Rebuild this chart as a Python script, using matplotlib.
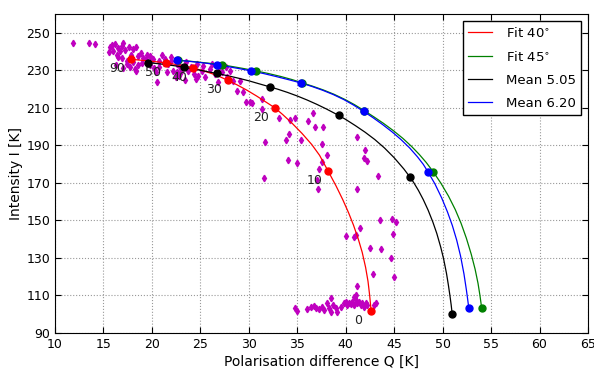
import matplotlib
matplotlib.use("Agg")
import matplotlib.pyplot as plt

# angle labels for the fit markers
angle_labels = ["90", "50", "40", "30", "20", "10", "0"]

# marker positions (Q, I) at each angle
red_mq = [17.81, 21.48, 24.22, 27.81, 32.66, 38.16, 42.62]
red_mi = [235.9, 233.9, 231.3, 224.7, 210.1, 176.5, 101.7]
green_mq = [22.7, 27.23, 30.7, 35.51, 41.91, 49.02, 54.02]
green_mi = [235.4, 232.9, 229.7, 223.3, 208.5, 176.0, 103.2]
black_mq = [19.57, 23.32, 26.72, 32.15, 39.26, 46.64, 50.98]
black_mi = [234.1, 231.6, 228.3, 221.2, 206.0, 173.0, 100.1]
blue_mq = [22.54, 26.76, 30.2, 35.35, 41.84, 48.52, 52.7]
blue_mi = [235.3, 232.9, 229.7, 223.3, 208.1, 175.6, 103.2]

# curves
red_q = [17.81, 19.0, 20.2, 21.48, 22.5, 23.4, 24.22, 25.2, 26.2, 27.0, 27.81, 28.8, 29.8,
         30.8, 31.7, 32.66, 33.5, 34.5, 35.5, 36.5, 37.3, 38.16, 39.0, 39.7, 40.3, 40.8,
         41.3, 41.7, 42.05, 42.3, 42.47, 42.58, 42.62]
red_i = [235.9, 235.3, 234.7, 233.9, 233.1, 232.3, 231.3, 229.9, 228.2, 226.6, 224.7, 222.2,
         219.4, 216.3, 213.3, 210.1, 206.4, 201.6, 196.3, 190.4, 184.7, 176.5, 168.4, 161.0,
         154.0, 147.5, 140.0, 133.0, 125.0, 117.5, 110.0, 104.0, 101.7]
green_q = [22.7, 23.8, 24.9, 26.0, 27.23, 28.4, 29.5, 30.7, 32.0, 33.3, 34.5, 35.51, 36.6,
           37.7, 38.8, 39.9, 40.9, 41.91, 42.9, 43.9, 44.9, 45.9, 46.8, 47.6, 48.3, 49.02,
           49.8, 50.6, 51.3, 51.9, 52.45, 52.95, 53.35, 53.65, 53.85, 53.97, 54.02]
green_i = [235.4, 234.9, 234.3, 233.7, 232.9, 231.9, 230.9, 229.7, 228.3, 226.7, 225.0, 223.3,
           221.5, 219.5, 217.2, 214.5, 211.7, 208.5, 205.2, 201.7, 197.9, 193.7, 189.4, 185.1,
           180.9, 176.0, 170.0, 163.0, 155.8, 148.5, 140.5, 132.0, 124.0, 116.5, 110.0, 105.5,
           103.2]
black_q = [19.57, 20.5, 21.5, 22.5, 23.32, 24.5, 25.5, 26.72, 28.0, 29.0, 30.0, 31.0, 32.15,
           33.0, 34.0, 35.0, 36.0, 37.0, 38.0, 39.26, 40.0, 41.0, 42.0, 43.0, 44.0, 45.0,
           46.0, 46.64, 47.0, 47.5, 48.0, 48.5, 49.0, 49.4, 49.8, 50.1, 50.4, 50.6, 50.75,
           50.88, 50.95, 50.98]
black_i = [234.1, 233.6, 233.0, 232.3, 231.6, 230.5, 229.5, 228.3, 226.9, 225.7, 224.4, 222.9,
           221.2, 219.9, 218.2, 216.3, 214.2, 211.9, 209.4, 206.0, 203.8, 200.5, 197.0, 193.1,
           188.6, 183.4, 177.4, 173.0, 170.3, 166.0, 161.1, 155.5, 149.0, 143.0, 135.8, 129.5,
           121.7, 115.3, 110.0, 105.0, 101.8, 100.1]
blue_q = [22.54, 23.6, 24.7, 25.7, 26.76, 27.9, 29.0, 30.2, 31.5, 32.8, 34.1, 35.35, 36.5,
          37.6, 38.7, 39.8, 40.8, 41.84, 42.8, 43.8, 44.8, 45.7, 46.6, 47.4, 48.0, 48.52,
          49.2, 49.9, 50.5, 51.0, 51.45, 51.85, 52.2, 52.45, 52.6, 52.7]
blue_i = [235.3, 234.9, 234.3, 233.7, 232.9, 231.9, 230.9, 229.7, 228.3, 226.7, 225.0, 223.3,
          221.4, 219.4, 217.1, 214.4, 211.5, 208.1, 204.8, 201.1, 197.1, 193.1, 188.6, 183.9,
          179.9, 175.6, 169.5, 162.0, 154.5, 147.3, 139.5, 131.0, 121.5, 113.0, 107.3, 103.2]

# measurements
obs_q = [11.9, 13.5, 14.1,
         15.7, 15.9, 16.2, 16.5, 16.9, 17.05, 17.2, 17.6, 18.1, 18.4, 16.0, 16.4, 16.5, 16.7,
         16.9, 18.3, 18.4, 18.6, 18.9, 19.1, 19.5, 19.8, 20.1, 20.5, 20.7, 21.0, 21.35, 21.7,
         22.0, 22.2, 22.55, 22.9, 18.1, 17.4, 17.7, 15.6, 16.3, 17.0, 17.4, 19.0, 19.4, 19.8,
         20.2, 20.4, 20.7, 21.2, 21.6, 18.6, 17.8,
         22.0, 22.6, 23.1, 23.0, 23.5, 23.7, 24.0, 24.3, 24.7, 24.8, 25.2, 25.3, 25.5, 26.0,
         26.2, 26.5, 26.9, 27.2, 27.6, 27.7, 28.1, 28.4, 28.8, 29.1, 29.4, 29.7, 30.1, 22.5,
         22.8, 23.4, 24.5, 26.8,
         30.36, 31.4, 31.33, 33.15, 34.25, 34.77, 36.14, 36.59, 36.83, 37.62, 34.18, 33.8,
         35.35, 31.7, 37.55, 38.03, 34.0, 35.0, 37.28, 37.52, 37.07, 37.14, 31.53, 41.2,
         41.13, 41.96, 41.89, 42.2, 43.33, 43.54, 44.74, 45.15, 41.47, 40.03, 40.85, 41.03,
         44.84, 42.47, 43.64, 44.64, 42.78, 44.95,
         34.77, 35.0, 36.0, 36.4, 36.7, 36.97, 37.25, 37.5, 37.77, 38.1, 38.28, 38.45, 38.45,
         38.69, 38.97, 39.14, 39.48, 39.83, 40.0, 40.17, 40.34, 40.52, 40.69, 40.86, 40.86,
         41.03, 41.1, 41.2, 41.2, 41.38, 41.55, 41.72, 41.89, 42.06, 42.23, 42.92, 43.1]
obs_i = [244.8, 244.8, 243.9,
         242.2, 243.6, 244.0, 241.9, 243.1, 244.3, 240.8, 242.2, 241.3, 242.2, 240.1, 238.3,
         237.3, 240.1, 236.5, 230.7, 229.8, 237.8, 239.0, 236.5, 238.3, 237.8, 236.0, 223.6,
         234.8, 238.3, 236.0, 233.4, 236.9, 229.8, 228.9, 231.6, 234.2, 233.4, 231.6, 240.0,
         233.0, 231.0, 235.0, 234.0, 236.0, 233.0, 231.0, 229.0, 232.0, 234.0, 229.0, 233.0,
         238.0,
         235.1, 233.4, 231.6, 228.9, 234.2, 229.8, 231.6, 228.0, 233.4, 227.2, 229.8, 232.5,
         226.3, 230.7, 233.4, 228.0, 231.6, 228.9, 231.6, 226.3, 229.8, 224.5, 219.2, 224.5,
         218.3, 213.0, 213.0, 226.3, 227.2, 225.0, 225.5, 224.0,
         212.5, 214.8, 209.4, 204.5, 203.6, 204.5, 203.2, 207.1, 199.7, 199.7, 196.2, 193.0,
         193.0, 191.7, 190.8, 184.6, 182.0, 180.6, 177.5, 181.1, 171.7, 166.6, 172.4, 166.6,
         194.4, 187.6, 183.2, 181.6, 173.5, 150.1, 150.6, 149.2, 146.0, 141.9, 141.2, 142.1,
         142.5, 135.4, 134.7, 130.2, 121.7, 119.6,
         103.1, 101.9, 102.6, 103.65, 104.4, 103.1, 102.6, 104.0, 102.2, 105.8, 103.1, 108.4,
         101.3, 104.9, 103.1, 101.3, 104.0, 105.8, 106.7, 104.9, 106.1, 105.4, 106.7, 104.9,
         109.3, 107.5, 110.2, 105.8, 115.0, 106.7, 104.9, 105.8, 104.0, 106.1, 104.9, 104.9,
         106.1]


def plot_chart():
    fig = plt.figure(figsize=(5.94, 3.70), dpi=100)
    ax = fig.add_axes([55 / 594, 1 - 333 / 370, 533 / 594, 319 / 370])

    ax.plot(obs_q, obs_i, linestyle="none", marker="d", markersize=3.3,
            color="m", markeredgecolor="m", zorder=2)

    ax.plot(red_q, red_i, color="red", lw=0.9, label="Fit 40$^{\\circ}$", zorder=3)
    ax.plot(green_q, green_i, color="green", lw=0.9, label="Fit 45$^{\\circ}$", zorder=3)
    ax.plot(black_q, black_i, color="black", lw=0.9, label="Mean 5.05", zorder=3)
    ax.plot(blue_q, blue_i, color="blue", lw=0.9, label="Mean 6.20", zorder=3)

    ax.plot(red_mq, red_mi, "o", color="red", markersize=5, zorder=4)
    ax.plot(green_mq, green_mi, "o", color="green", markersize=5, zorder=4)
    ax.plot(black_mq, black_mi, "o", color="black", markersize=5, zorder=4)
    ax.plot(blue_mq, blue_mi, "o", color="blue", markersize=5, zorder=4)

    for lab, q, i in zip(angle_labels, red_mq, red_mi):
        ax.annotate(lab, (q, i), xytext=(-9.5, -6.8), textcoords="offset points",
                    ha="center", va="center", fontsize=9, color="#222222", zorder=5)

    ax.set_xlim(10, 65)
    ax.set_ylim(90, 260)
    ax.set_xticks(range(10, 66, 5))
    ax.set_yticks(range(90, 251, 20))
    ax.tick_params(direction="in", top=True, right=True, labelsize=9, length=4)
    ax.grid(True, color="#999999", linestyle=":", linewidth=0.8)
    ax.set_axisbelow(True)

    ax.set_xlabel("Polarisation difference Q [K]", fontsize=10, labelpad=3)
    ax.set_ylabel("Intensity I [K]", fontsize=10, labelpad=2)

    leg = ax.legend(loc="upper right", fontsize=9.5, fancybox=False, framealpha=1,
                    edgecolor="black", handlelength=1.8, handletextpad=1.1,
                    labelspacing=0.75, borderaxespad=0.5)
    leg.get_frame().set_linewidth(1.0)

    fig.savefig("out.png", dpi=100)


plot_chart()
